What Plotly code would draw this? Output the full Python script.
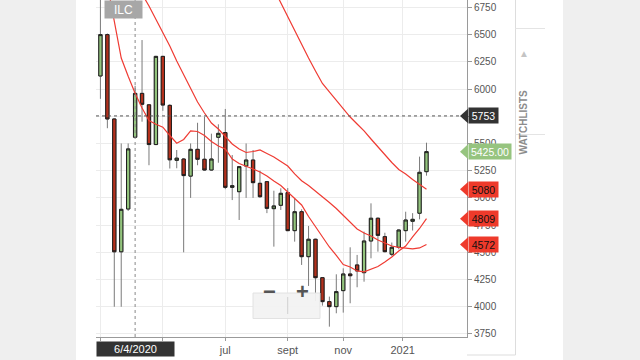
import plotly.graph_objects as go

# ---------------- data ----------------
weeks = ["2020-03-02","2020-03-09","2020-03-16","2020-03-23","2020-03-30","2020-04-06","2020-04-13",
         "2020-04-20","2020-04-27","2020-05-04","2020-05-11","2020-05-18","2020-05-25","2020-06-01",
         "2020-06-08","2020-06-15","2020-06-22","2020-06-29","2020-07-06","2020-07-13","2020-07-20",
         "2020-07-27","2020-08-03","2020-08-10","2020-08-17","2020-08-24","2020-08-31","2020-09-07",
         "2020-09-14","2020-09-21","2020-09-28","2020-10-05","2020-10-12","2020-10-19","2020-10-26",
         "2020-11-02","2020-11-09","2020-11-16","2020-11-23","2020-11-30","2020-12-07","2020-12-14",
         "2020-12-21","2020-12-28","2021-01-04","2021-01-11","2021-01-18","2021-01-25"]

opens = [6120,6500,5725,4505,4898,5557,5960,5855,5490,6300,5850,5345,5357,5200,5446,5355,5256,5557,
         5600,5097,5057,5293,5348,5134,5149,4901,4932,5048,4699,4873,4460,4620,4267,4047,4001,4148,
         4301,4384,4313,4604,4813,4644,4482,4546,4699,4785,4859,5241]
highs = [6900,6510,5730,5500,5500,6030,6450,5860,6305,6305,5860,5440,5365,5500,5690,5745,5590,5676,
         5817,5394,5290,5500,5440,5250,5155,5066,5088,5090,4996,4895,4742,4625,4270,4093,4298,4353,
         4546,4476,4690,4950,4820,4680,4590,4710,4873,4860,5379,5507]
lows = [5910,5640,4000,4000,4880,5550,5700,5300,5485,5800,5270,5272,4500,5000,5300,5250,5250,5323,
        5080,4980,4797,5000,5000,5000,4860,4552,4889,4695,4598,4384,4191,4053,4010,3817,3940,3946,
        4032,4179,4230,4445,4506,4500,4465,4528,4598,4700,4803,5204]
closes = [6500,5725,4505,4895,5450,5960,5860,5490,6300,5853,5350,5365,5205,5446,5355,5256,5357,5593,
          5097,5112,5287,5348,5140,5011,4904,4926,5042,4699,4873,4460,4620,4267,4047,4001,4139,4301,
          4285,4329,4604,4813,4656,4506,4546,4705,4797,4803,5235,5425]

ma_fast = [7300,6950,6617,6285,6117,5961,5826,5711,5676,5650,5573,5502,5537,5615,5610,5573,5518,5477,
           5449,5357,5316,5293,5266,5238,5201,5155,5114,5054,4999,4935,4829,4737,4641,4549,4471,4388,
           4365,4329,4320,4342,4370,4411,4457,4512,4558,4641,4719,4809]
ma_mid = [7406,7314,7222,7130,7038,7001,6873,6763,6643,6524,6395,6258,6129,6010,5881,5780,5688,5633,
          5560,5495,5449,5417,5426,5440,5408,5376,5334,5293,5220,5158,5114,5064,5008,4958,4903,4843,
          4779,4714,4678,4650,4613,4586,4558,4545,4535,4531,4540,4572]
ma_slow_dates = weeks[20:]
ma_slow = [7520,7390,7270,7150,7046,6917,6790,6662,6535,6406,6285,6166,6051,5973,5895,5821,5743,5679,
           5615,5541,5468,5394,5325,5261,5220,5169,5123,5080]

y_ticks = [3750,4000,4250,4500,4750,5000,5250,5500,5750,6000,6250,6500,6750]
x_tickvals = ["2020-03-02","2020-05-04","2020-07-06","2020-09-07","2020-11-02","2021-01-01"]
x_ticktext = ["", "", "jul", "sept", "nov", "2021"]

symbol = "ILC"
crosshair_date = "2020-04-06"
crosshair_label = "6/4/2020"
crosshair_price = 5753
last_price = 5425.00
ma_labels = [(5080, "5080"), (4809, "4809"), (4572, "4572")]

# ---------------- style ----------------
GREEN = "#93c47d"
RED = "#b3301c"
MA_COLOR = "#ef3b33"
FONT = "Liberation Sans, Arial, sans-serif"

W, H = 640, 360
L, R, T, B = 96, 173, 0, 23
PW, PH = W - L - R, H - T - B

def px(xp):
    return (xp - L) / PW

def py(yp):
    return (H - B - yp) / PH

fig = go.Figure()

# wicks (grey)
fig.add_trace(go.Candlestick(
    x=weeks, open=opens, high=highs, low=lows, close=closes,
    increasing=dict(line=dict(color="#7a7a7a", width=1), fillcolor=GREEN),
    decreasing=dict(line=dict(color="#7a7a7a", width=1), fillcolor=RED),
    whiskerwidth=0, hoverinfo="skip"))
# bodies (black outline)
body_hi = [max(o, c) for o, c in zip(opens, closes)]
body_lo = [min(o, c) for o, c in zip(opens, closes)]
fig.add_trace(go.Candlestick(
    x=weeks, open=opens, high=body_hi, low=body_lo, close=closes,
    increasing=dict(line=dict(color="#1e1e1e", width=1), fillcolor=GREEN),
    decreasing=dict(line=dict(color="#1e1e1e", width=1), fillcolor=RED),
    whiskerwidth=0, hoverinfo="skip"))

for xs, ys in [(weeks, ma_fast), (weeks, ma_mid), (ma_slow_dates, ma_slow)]:
    fig.add_trace(go.Scatter(x=xs, y=ys, mode="lines",
                             line=dict(color=MA_COLOR, width=1.2), hoverinfo="skip"))

shapes = []
# page backgrounds
shapes.append(dict(type="rect", xref="paper", yref="paper", x0=px(0), x1=px(76), y0=py(H), y1=py(0),
                   fillcolor="#efefef", line=dict(width=0), layer="below"))
shapes.append(dict(type="rect", xref="paper", yref="paper", x0=px(563), x1=px(W), y0=py(H), y1=py(0),
                   fillcolor="#efefef", line=dict(width=0), layer="below"))
# side panel borders
shapes.append(dict(type="line", xref="paper", yref="paper", x0=px(515.5), x1=px(515.5), y0=py(355), y1=py(0),
                   line=dict(color="#dddddd", width=1)))
shapes.append(dict(type="line", xref="paper", yref="paper", x0=px(467), x1=px(515.5), y0=py(355), y1=py(355),
                   line=dict(color="#dddddd", width=1)))
for yy in (28.5, 134.5):
    shapes.append(dict(type="line", xref="paper", yref="paper", x0=px(515.5), x1=px(545), y0=py(yy), y1=py(yy),
                       line=dict(color="#e4e4e4", width=1)))
# crosshair
shapes.append(dict(type="line", xref="paper", yref="y", x0=0, x1=px(462), y0=crosshair_price, y1=crosshair_price,
                   line=dict(color="#555555", width=1, dash="3px,3px")))
shapes.append(dict(type="line", xref="x", yref="paper", x0=crosshair_date, x1=crosshair_date, y0=0, y1=1,
                   line=dict(color="#888888", width=1, dash="3px,3px")))
# zoom control
shapes.append(dict(type="rect", xref="paper", yref="paper", x0=px(253), x1=px(320), y0=py(318.5), y1=py(293),
                   fillcolor="rgba(242,242,242,0.95)", line=dict(color="#e2e2e2", width=1)))
shapes.append(dict(type="line", xref="paper", yref="paper", x0=px(287.7), x1=px(287.7), y0=py(314), y1=py(297),
                   line=dict(color="#d0d0d0", width=1)))

annotations = []
# price tags on the right axis
tag_half = 7.3 / (PH / (6818 - 3722))
def add_tag(val, text, bg, fg, width):
    shapes.append(dict(type="path", xref="paper", yref="y",
                       path=f"M {px(460)},{val} L {px(468)},{val + tag_half} L {px(468)},{val - tag_half} Z",
                       fillcolor=bg, line=dict(width=0)))
    annotations.append(dict(xref="paper", yref="y", x=px(467.5), y=val, xanchor="left", yanchor="middle",
                            text=text, showarrow=False, bgcolor=bg, width=width, height=15, borderpad=0,
                            font=dict(color=fg, size=10.5, family=FONT)))

add_tag(crosshair_price, str(crosshair_price), "#333333", "white", 29)
add_tag(last_price, f"{last_price:.2f}", "#96c47f", "white", 42)
for v, t in ma_labels:
    add_tag(v, t, "#ee3a2b", "#111111", 29)

# symbol box
annotations.append(dict(xref="paper", yref="paper", x=px(123.7), y=1, xanchor="center", yanchor="top",
                        text=symbol, showarrow=False, bgcolor="#a7a7a7", width=37, height=17, borderpad=0,
                        font=dict(color="white", size=12, family=FONT)))
# crosshair date box
annotations.append(dict(xref="x", yref="paper", x=crosshair_date, y=py(341), xanchor="center", yanchor="top",
                        text=crosshair_label, showarrow=False, bgcolor="#333333", width=77, height=14,
                        borderpad=0, font=dict(color="white", size=11, family=FONT)))
# zoom control glyphs
annotations.append(dict(xref="paper", yref="paper", x=px(269.3), y=py(305.5), text="<b>−</b>", showarrow=False,
                        font=dict(color="#555555", size=22, family=FONT)))
annotations.append(dict(xref="paper", yref="paper", x=px(302.7), y=py(305.5), text="<b>+</b>", showarrow=False,
                        font=dict(color="#555555", size=22, family=FONT)))
# watchlists tab
annotations.append(dict(xref="paper", yref="paper", x=px(530.5), y=py(88), text="<b>WATCHLISTS</b>",
                        textangle=-90, showarrow=False, font=dict(color="#8c8c8c", size=10, family=FONT)))
annotations.append(dict(xref="paper", yref="paper", x=px(530.5), y=py(46), text="▲",
                        showarrow=False, font=dict(color="#c4c4c4", size=10, family=FONT)))

fig.update_layout(
    width=W, height=H, margin=dict(l=L, r=R, t=T, b=B, pad=0),
    paper_bgcolor="white", plot_bgcolor="white", showlegend=False, hovermode=False,
    font=dict(family=FONT), boxgap=0.32,
    shapes=shapes, annotations=annotations,
    xaxis=dict(type="date", range=["2020-02-26 13:00", "2021-03-06 21:00"],
               tickvals=x_tickvals, ticktext=x_ticktext,
               showgrid=True, gridcolor="#ececec", gridwidth=1,
               showline=True, linecolor="#9a9a9a", linewidth=1,
               ticks="outside", ticklen=3, tickcolor="#9a9a9a",
               tickfont=dict(size=11, color="#555555", family=FONT),
               zeroline=False, rangeslider=dict(visible=False), fixedrange=True),
    yaxis=dict(side="right", range=[3722, 6818], tickvals=y_ticks,
               showgrid=True, gridcolor="#ececec", gridwidth=1,
               showline=True, linecolor="#9a9a9a", linewidth=1,
               ticks="outside", ticklen=4, tickcolor="#9a9a9a",
               tickfont=dict(size=10, color="#555555", family=FONT),
               zeroline=False, fixedrange=True),
)

fig.write_html("out.html", config={"displayModeBar": False})
